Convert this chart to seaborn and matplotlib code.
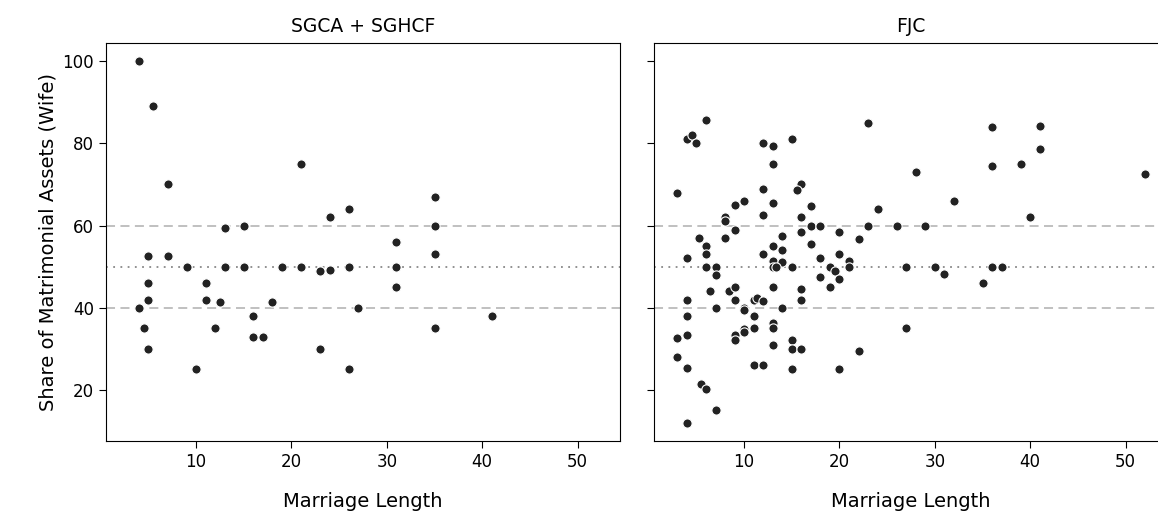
import matplotlib
matplotlib.use("Agg")
import matplotlib.pyplot as plt
import seaborn as sns
import pandas as pd

# SGCA + SGHCF
sg_length = [4, 5.5, 7, 13, 15, 21, 24, 26, 5, 7, 9, 13, 15, 19, 21, 23, 24, 26,
             5, 11, 4, 5, 11, 12.5, 18, 4.5, 12, 16, 16, 17, 5, 23, 10, 26, 27,
             35, 35, 31, 35, 31, 31, 41, 35]
sg_share = [100, 89, 70, 59.4, 60, 75, 62, 64, 52.5, 52.5, 50, 50, 50, 50, 50, 49, 49.3, 50,
            46, 46, 40, 42, 42, 41.5, 41.5, 35, 35, 38, 33, 33, 30, 30, 25, 25, 40,
            67, 60, 56, 53, 50, 45, 38, 35]

# FJC
fjc_length = [6, 4, 4.5, 5, 3, 12, 13, 15, 13, 12, 16, 15.5, 13, 10, 9, 17, 12, 8, 8, 16,
              17, 18, 9, 16, 5.3, 8, 14, 6, 13, 17, 14, 6, 12, 4, 13, 18, 14,
              6, 7, 7, 13, 13.3, 15, 18, 19, 13, 16, 16, 6.4, 4, 8.4, 9, 9, 11, 11.4, 12,
              7, 10, 10, 14, 11, 4, 3, 4, 9, 9, 10, 10, 11, 13, 13, 15, 15, 16, 13,
              3, 4, 11, 12, 15, 5.5, 6, 7, 4,
              23, 28, 36, 36, 32, 24, 23, 26, 29, 20, 22, 20, 21,
              19, 19.5, 21, 20, 27, 30, 31, 35, 27, 22, 20,
              41, 41, 39, 52, 40, 36, 37]
fjc_share = [85.7, 81, 82, 80, 68, 80, 79.3, 81, 75, 69, 70, 68.7, 65.5, 66, 65, 64.7, 62.6, 62, 61, 62,
             60, 60, 59, 58.4, 57, 57, 57.5, 55, 55, 55.5, 54, 53, 53, 52, 51.5, 52, 51.2,
             50, 50, 48, 50, 50, 50, 47.5, 45, 45, 44.6, 42, 44, 42, 44, 45, 42, 42, 42.5, 41.7,
             40, 40, 39.4, 40, 38, 38, 32.7, 33.4, 33.4, 32.2, 34.8, 34, 35, 36.2, 35, 32.2, 30, 30, 31,
             28, 25.3, 26, 26, 25, 21.5, 20.2, 15.2, 12,
             85, 73, 84, 74.5, 66, 64, 60, 60, 60, 58.4, 56.8, 53, 51.5,
             50, 49, 50, 47, 50, 50, 48.2, 46, 35, 29.5, 25,
             84.3, 78.5, 75, 72.6, 62, 50, 49.8]

panels = ["SGCA + SGHCF", "FJC"]

df = pd.concat([
    pd.DataFrame({"Marriage Length": sg_length, "Share": sg_share, "panel": panels[0]}),
    pd.DataFrame({"Marriage Length": fjc_length, "Share": fjc_share, "panel": panels[1]}),
])

fig = plt.figure(figsize=(11.58, 5.12), dpi=100)
ax1 = fig.add_axes([106 / 1158, 71 / 512, 514 / 1158, 398 / 512])
ax2 = fig.add_axes([654 / 1158, 71 / 512, 514 / 1158, 398 / 512], sharex=ax1, sharey=ax1)

for ax, name in zip([ax1, ax2], panels):
    sub = df[df["panel"] == name]
    for y, ls, c in [(40, (0, (5, 3)), "#bbbbbb"), (60, (0, (5, 3)), "#bbbbbb"), (50, (0, (1, 3)), "#888888")]:
        ax.axhline(y, color=c, linestyle=ls, linewidth=1.3, zorder=1)
    sns.scatterplot(data=sub, x="Marriage Length", y="Share", ax=ax,
                    color="#222222", edgecolor="white", linewidth=0.8, s=44, zorder=3)
    ax.set_title(name, fontsize=13.5, pad=8)
    ax.set_xlabel("Marriage Length", fontsize=14, labelpad=15)
    ax.tick_params(labelsize=12, length=5)

ax1.set_ylabel("Share of Matrimonial Assets (Wife)", fontsize=14)
ax2.set_ylabel("")
ax2.tick_params(labelleft=False)
ax1.set_xlim(0.55, 54.45)
ax1.set_ylim(7.6, 104.4)
ax1.set_xticks([10, 20, 30, 40, 50])
ax1.set_yticks([20, 40, 60, 80, 100])

fig.savefig("out.png", dpi=100)
